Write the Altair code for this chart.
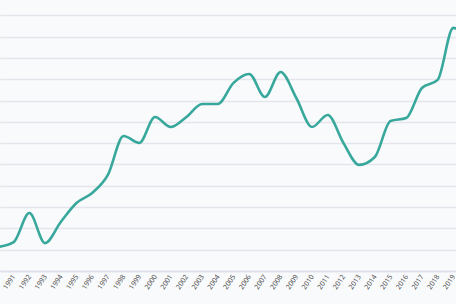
import altair as alt
import pandas as pd

years = list(range(1990, 2021))
values = [11.3, 13.6, 27.2, 13.1, 23.0, 31.9, 36.6, 45.1, 63.4, 60.1,
          72.3, 67.6, 72.3, 78.4, 78.4, 88.3, 92.5, 81.7, 93.4, 81.2,
          67.6, 73.2, 60.1, 49.8, 53.5, 70.4, 71.8, 85.9, 89.7, 114.1,
          108.0]
tick_years = list(range(1990, 2020))
grid_values = list(range(0, 130, 10))

df = pd.DataFrame({"year": years, "value": values})

chart = alt.Chart(df).mark_line(
    interpolate="monotone", color="#38a89d", strokeWidth=2.6, clip=True
).encode(
    x=alt.X("year:Q",
            scale=alt.Scale(domain=[1990.13, 2019.17], nice=False, zero=False),
            axis=alt.Axis(values=tick_years, format="d", labelAngle=-56,
                          labelFontSize=7, labelColor="#444444",
                          labelFont="Open Sans",
                          labelOverlap=False, labelFlush=False, labelBound=False,
                          ticks=False, grid=False, domain=True,
                          domainColor="#dde0e8", domainWidth=1.5,
                          labelPadding=4, title=None)),
    y=alt.Y("value:Q",
            scale=alt.Scale(domain=[0, 127.2], nice=False, zero=True),
            axis=alt.Axis(values=grid_values, labels=False, ticks=False,
                          domain=False, grid=True, gridColor="#e4e6ec",
                          gridWidth=1.5, title=None)),
).properties(
    width=456, height=271, autosize=alt.AutoSizeParams(type="none"),
    padding={"left": 0, "top": 0, "right": 0, "bottom": 33},
    background="#f9fafc"
).configure_view(stroke=None, fill="#f9fafc")

chart.save("out.html", embed_options={"renderer": "svg", "actions": False})
